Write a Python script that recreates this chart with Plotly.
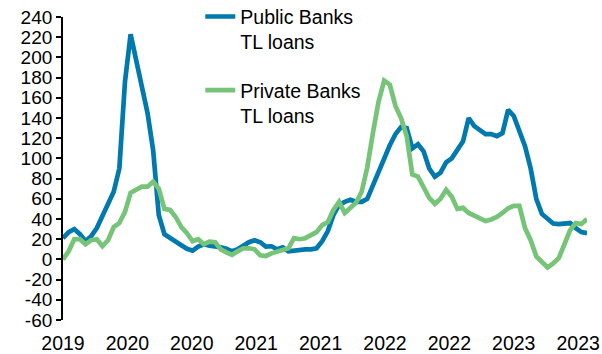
import pandas as pd
import plotly.graph_objects as go

start_date = "2019-12-13"
step_days = 14

public_banks = [21, 27, 30, 25, 18, 23, 31, 43, 53, 67,
                90, 176, 223, 198, 168, 145, 108, 44, 25, 21,
                18, 14, 10.5, 8.6, 12.6, 15, 13.5, 13, 12, 10.5,
                8, 10, 14, 17, 19, 17, 12.6, 13, 10, 12,
                8, 9, 10, 10, 10, 11, 18, 28, 44, 54,
                57, 59, 57, 57, 60, 74, 87, 102, 113, 124,
                131, 130, 110, 114, 107, 90, 82, 86, 96, 100,
                108, 117, 140, 132, 128, 124, 124, 122, 125, 148,
                142, 127, 112, 90, 60, 45, 40, 35.5, 35, 36,
                36, 31, 27, 26]

private_banks = [0, 8, 20, 20, 15, 19, 20, 13, 19, 32,
                 36, 47, 66, 69, 72, 72, 77, 70, 50, 49,
                 42, 32, 26, 18, 20, 15, 17.5, 17, 10, 7,
                 4.5, 8, 11, 11, 10, 4, 3.4, 6, 8, 10,
                 11, 21, 20, 21, 24, 27, 34, 37, 49, 57,
                 46, 51, 56, 67, 91, 125, 156, 177, 173, 152,
                 140, 122, 84, 82, 71, 61, 55, 60, 69, 62,
                 50, 51, 46, 43.5, 40, 38, 39.5, 42, 46, 50.6,
                 53, 53, 31, 19, 3, -3, -8, -4, 1.5, 15,
                 29, 36, 35, 40]

series_names = ["Public Banks<br>TL loans", "Private Banks<br>TL loans"]
series_colors = ["#0079AE", "#76C477"]

tick_step_days = 160
x_tick_labels = ["2019", "2020", "2020", "2021", "2021", "2022", "2022", "2023", "2023"]
y_tick_values = [-60, -40, -20, 0, 20, 40, 60, 80, 100, 120, 140, 160, 180, 200, 220, 240]
y_tick_labels = ["-60", "-40", "-20", "0", "20", "40", "60", "80", "100", "120",
                 "140", "160", "180", "200", "220", "240"]

# ---- build ----
dates = pd.date_range(start=start_date, periods=len(public_banks), freq=f"{step_days}D")
tick_dates = pd.date_range(start=start_date, periods=len(x_tick_labels), freq=f"{tick_step_days}D")
x_range = [dates[0], dates[-1]]

font_family = "Arial, 'Liberation Sans', sans-serif"

fig = go.Figure()
for i, (vals, name, col) in enumerate(zip([public_banks, private_banks], series_names, series_colors)):
    fig.add_trace(go.Scatter(
        x=dates, y=vals, mode="lines", name=name,
        line=dict(color=col, width=4.7),
        legendgroup=f"g{i}",
    ))

fig.update_layout(
    width=602, height=354,
    margin=dict(l=63, r=15, t=17, b=34, autoexpand=False),
    paper_bgcolor="white", plot_bgcolor="white",
    font=dict(family=font_family, size=19, color="black"),
    showlegend=True,
    legend=dict(
        x=0.262, y=1.065, xanchor="left", yanchor="top",
        font=dict(size=19.5, color="black"),
        valign="top", tracegroupgap=20,
        bgcolor="rgba(0,0,0,0)",
    ),
    xaxis=dict(
        type="date", range=x_range,
        tickmode="array", tickvals=tick_dates, ticktext=x_tick_labels,
        ticks="outside", ticklen=6, tickcolor="rgba(0,0,0,0)",
        showline=False, showgrid=False, zeroline=False,
        tickfont=dict(size=19.5),
    ),
    xaxis2=dict(
        type="date", range=x_range, overlaying="x", matches="x",
        anchor="free", position=60 / 300,
        tickmode="array", tickvals=tick_dates,
        showticklabels=False, ticks="outside", ticklen=6, tickwidth=1.5,
        tickcolor="black", showline=True, linecolor="black", linewidth=1.8,
        showgrid=False, zeroline=False,
    ),
    yaxis=dict(
        range=[-60, 240], tickmode="array", tickvals=y_tick_values, ticktext=y_tick_labels,
        ticks="outside", ticklen=5, tickwidth=1.5, tickcolor="black",
        showline=True, linecolor="black", linewidth=1.8,
        showgrid=False, zeroline=False,
        tickfont=dict(size=19),
    ),
)

fig.write_html("out.html", config={"displayModeBar": False},
               post_script="document.body.style.margin='0px';")
